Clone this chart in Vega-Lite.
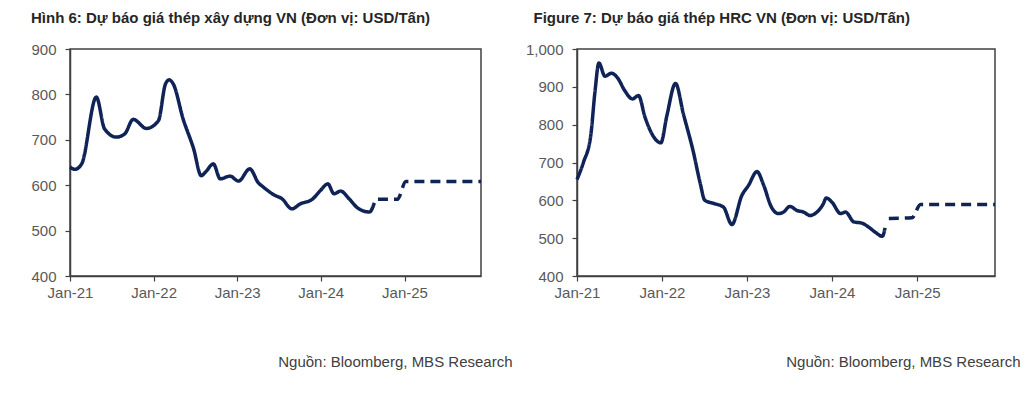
{
  "$schema": "https://vega.github.io/schema/vega-lite/v6.json",
  "padding": {"left": 30, "top": 10, "right": 0, "bottom": 0},
  "autosize": {"type": "pad"},
  "background": "white",
  "bounds": "flush",
  "spacing": 96,
  "config": {
    "view": {"stroke": "#404040", "strokeWidth": 1.5},
    "font": "Liberation Sans",
    "axis": {"grid": false, "domainColor": "#404040", "domainWidth": 1.5, "tickColor": "#404040", "tickWidth": 1.2, "tickSize": 5, "labelFont": "Liberation Sans", "labelFontSize": 15, "labelColor": "#595959", "titleFont": "Liberation Sans"},
    "axisX": {"labelPadding": 4, "labelFlush": false},
    "axisY": {"labelPadding": 9},
    "title": {"font": "Liberation Sans", "fontSize": 15, "fontWeight": "bold", "color": "#262626", "anchor": "start", "frame": "bounds", "offset": 16}
  },
  "datasets": {
    "rebar": [
      {"d": "2021-01-01", "v": 640, "k": "actual"},
      {"d": "2021-01-22", "v": 635, "k": "actual"},
      {"d": "2021-02-21", "v": 647, "k": "actual"},
      {"d": "2021-04-26", "v": 794, "k": "actual"},
      {"d": "2021-06-01", "v": 724, "k": "actual"},
      {"d": "2021-07-22", "v": 706, "k": "actual"},
      {"d": "2021-08-28", "v": 713, "k": "actual"},
      {"d": "2021-10-04", "v": 745, "k": "actual"},
      {"d": "2021-12-01", "v": 725, "k": "actual"},
      {"d": "2022-01-22", "v": 742, "k": "actual"},
      {"d": "2022-02-22", "v": 823, "k": "actual"},
      {"d": "2022-03-10", "v": 832, "k": "actual"},
      {"d": "2022-03-28", "v": 823, "k": "actual"},
      {"d": "2022-05-10", "v": 746, "k": "actual"},
      {"d": "2022-06-25", "v": 680, "k": "actual"},
      {"d": "2022-07-28", "v": 621, "k": "actual"},
      {"d": "2022-08-16", "v": 629, "k": "actual"},
      {"d": "2022-09-19", "v": 647, "k": "actual"},
      {"d": "2022-10-19", "v": 614, "k": "actual"},
      {"d": "2022-12-01", "v": 620, "k": "actual"},
      {"d": "2023-01-07", "v": 609, "k": "actual"},
      {"d": "2023-02-25", "v": 636, "k": "actual"},
      {"d": "2023-04-04", "v": 605, "k": "actual"},
      {"d": "2023-04-25", "v": 596, "k": "actual"},
      {"d": "2023-06-10", "v": 579, "k": "actual"},
      {"d": "2023-07-16", "v": 570, "k": "actual"},
      {"d": "2023-08-28", "v": 548, "k": "actual"},
      {"d": "2023-10-04", "v": 559, "k": "actual"},
      {"d": "2023-11-25", "v": 569, "k": "actual"},
      {"d": "2024-01-01", "v": 589, "k": "actual"},
      {"d": "2024-02-01", "v": 603, "k": "actual"},
      {"d": "2024-02-28", "v": 581, "k": "actual"},
      {"d": "2024-03-28", "v": 587, "k": "actual"},
      {"d": "2024-05-04", "v": 570, "k": "actual"},
      {"d": "2024-06-10", "v": 550, "k": "actual"},
      {"d": "2024-07-07", "v": 543, "k": "actual"},
      {"d": "2024-08-01", "v": 541, "k": "actual"},
      {"d": "2024-08-22", "v": 561, "k": "actual"},
      {"d": "2024-09-07", "v": 569, "k": "forecast"},
      {"d": "2024-12-01", "v": 569, "k": "forecast"},
      {"d": "2025-01-07", "v": 608, "k": "forecast"},
      {"d": "2025-12-01", "v": 608, "k": "forecast"}
    ],
    "hrc": [
      {"d": "2021-01-01", "v": 655, "k": "actual"},
      {"d": "2021-01-29", "v": 701, "k": "actual"},
      {"d": "2021-03-01", "v": 771, "k": "actual"},
      {"d": "2021-03-19", "v": 886, "k": "actual"},
      {"d": "2021-04-05", "v": 963, "k": "actual"},
      {"d": "2021-05-01", "v": 928, "k": "actual"},
      {"d": "2021-05-29", "v": 936, "k": "actual"},
      {"d": "2021-06-25", "v": 923, "k": "actual"},
      {"d": "2021-07-25", "v": 890, "k": "actual"},
      {"d": "2021-08-27", "v": 868, "k": "actual"},
      {"d": "2021-09-22", "v": 877, "k": "actual"},
      {"d": "2021-10-20", "v": 820, "k": "actual"},
      {"d": "2021-11-25", "v": 769, "k": "actual"},
      {"d": "2021-12-27", "v": 752, "k": "actual"},
      {"d": "2022-01-22", "v": 824, "k": "actual"},
      {"d": "2022-02-28", "v": 909, "k": "actual"},
      {"d": "2022-04-03", "v": 828, "k": "actual"},
      {"d": "2022-05-16", "v": 727, "k": "actual"},
      {"d": "2022-06-13", "v": 648, "k": "actual"},
      {"d": "2022-07-04", "v": 600, "k": "actual"},
      {"d": "2022-08-16", "v": 591, "k": "actual"},
      {"d": "2022-09-22", "v": 582, "k": "actual"},
      {"d": "2022-10-28", "v": 536, "k": "actual"},
      {"d": "2022-12-10", "v": 613, "k": "actual"},
      {"d": "2023-01-07", "v": 639, "k": "actual"},
      {"d": "2023-02-13", "v": 676, "k": "actual"},
      {"d": "2023-03-13", "v": 641, "k": "actual"},
      {"d": "2023-04-16", "v": 582, "k": "actual"},
      {"d": "2023-05-16", "v": 565, "k": "actual"},
      {"d": "2023-06-07", "v": 569, "k": "actual"},
      {"d": "2023-07-04", "v": 584, "k": "actual"},
      {"d": "2023-08-04", "v": 573, "k": "actual"},
      {"d": "2023-09-01", "v": 569, "k": "actual"},
      {"d": "2023-09-28", "v": 560, "k": "actual"},
      {"d": "2023-11-04", "v": 573, "k": "actual"},
      {"d": "2023-11-25", "v": 591, "k": "actual"},
      {"d": "2023-12-07", "v": 606, "k": "actual"},
      {"d": "2024-01-01", "v": 595, "k": "actual"},
      {"d": "2024-02-07", "v": 565, "k": "actual"},
      {"d": "2024-02-28", "v": 569, "k": "actual"},
      {"d": "2024-04-04", "v": 543, "k": "actual"},
      {"d": "2024-05-07", "v": 540, "k": "actual"},
      {"d": "2024-06-07", "v": 529, "k": "actual"},
      {"d": "2024-07-04", "v": 516, "k": "actual"},
      {"d": "2024-08-04", "v": 505, "k": "actual"},
      {"d": "2024-08-16", "v": 527, "k": "actual"},
      {"d": "2024-09-01", "v": 552, "k": "forecast"},
      {"d": "2024-12-10", "v": 554, "k": "forecast"},
      {"d": "2025-01-15", "v": 589, "k": "forecast"},
      {"d": "2025-12-01", "v": 589, "k": "forecast"}
    ]
  },
  "hconcat": [
    {
      "width": 411,
      "height": 227,
      "title": {"text": "Hình 6: Dự báo giá thép xây dựng VN (Đơn vị: USD/Tấn)"},
      "data": {"name": "rebar"},
      "mark": {"type": "line", "interpolate": "monotone", "strokeWidth": 3.5, "color": "#0f2357"},
      "encoding": {
        "x": {
          "field": "d", "type": "temporal",
          "scale": {"type": "utc", "domain": [{"year": 2021, "month": 1, "date": 1, "utc": true}, {"year": 2025, "month": 12, "date": 1, "utc": true}]},
          "axis": {
            "values": [{"year": 2021, "month": 1, "date": 1, "utc": true}, {"year": 2022, "month": 1, "date": 1, "utc": true}, {"year": 2023, "month": 1, "date": 1, "utc": true}, {"year": 2024, "month": 1, "date": 1, "utc": true}, {"year": 2025, "month": 1, "date": 1, "utc": true}],
            "labelExpr": "utcFormat(datum.value, '%b-%y')",
            "title": "Nguồn: Bloomberg, MBS Research",
            "titleFontSize": 15, "titleFontWeight": "normal", "titleColor": "#404040",
            "titleX": 442, "titleY": 90, "titleAlign": "right", "titleBaseline": "alphabetic", "titleAnchor": null
          }
        },
        "y": {
          "field": "v", "type": "quantitative",
          "scale": {"domain": [400, 900]},
          "axis": {"values": [400, 500, 600, 700, 800, 900], "format": ",.0f", "title": null}
        },
        "strokeDash": {
          "field": "k", "type": "nominal",
          "scale": {"domain": ["actual", "forecast"], "range": [[1, 0], [10, 6]]},
          "legend": null
        }
      }
    },
    {
      "width": 418,
      "height": 227,
      "title": {"text": "Figure 7: Dự báo giá thép HRC VN (Đơn vị: USD/Tấn)", "dx": 8},
      "data": {"name": "hrc"},
      "mark": {"type": "line", "interpolate": "monotone", "strokeWidth": 3.5, "color": "#0f2357"},
      "encoding": {
        "x": {
          "field": "d", "type": "temporal",
          "scale": {"type": "utc", "domain": [{"year": 2021, "month": 1, "date": 1, "utc": true}, {"year": 2025, "month": 12, "date": 1, "utc": true}]},
          "axis": {
            "values": [{"year": 2021, "month": 1, "date": 1, "utc": true}, {"year": 2022, "month": 1, "date": 1, "utc": true}, {"year": 2023, "month": 1, "date": 1, "utc": true}, {"year": 2024, "month": 1, "date": 1, "utc": true}, {"year": 2025, "month": 1, "date": 1, "utc": true}],
            "labelExpr": "utcFormat(datum.value, '%b-%y')",
            "title": "Nguồn: Bloomberg, MBS Research",
            "titleFontSize": 15, "titleFontWeight": "normal", "titleColor": "#404040",
            "titleX": 443, "titleY": 90, "titleAlign": "right", "titleBaseline": "alphabetic", "titleAnchor": null
          }
        },
        "y": {
          "field": "v", "type": "quantitative",
          "scale": {"domain": [400, 1000]},
          "axis": {"values": [400, 500, 600, 700, 800, 900, 1000], "format": ",.0f", "title": null}
        },
        "strokeDash": {
          "field": "k", "type": "nominal",
          "scale": {"domain": ["actual", "forecast"], "range": [[1, 0], [10, 6]]},
          "legend": null
        }
      }
    }
  ]
}
